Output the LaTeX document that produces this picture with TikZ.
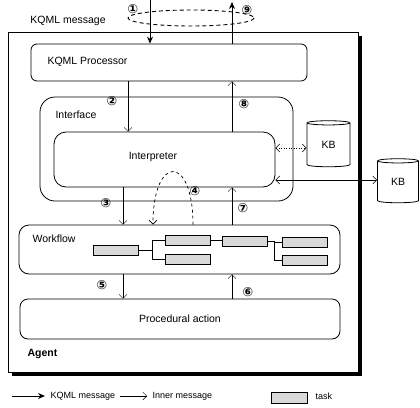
\documentclass[tikz,border=0pt]{standalone}
\usepackage{fontspec}
\setmainfont{Liberation Sans}
\newfontfamily\numfont{DejaVu Sans}
\usetikzlibrary{arrows.meta, positioning, shapes.geometric, calc, shadows}

\begin{document}
\begin{tikzpicture}[
    x=1pt, y=-1pt,
    font=\fontsize{10.5}{12}\selectfont,
    box/.style={draw, line width=0.8pt, rounded corners=#1, inner sep=0pt},
    task/.style={draw, line width=0.7pt, fill=gray!30, inner sep=0pt,
                 minimum width=45pt, minimum height=10pt},
    kb/.style={draw, line width=0.8pt, cylinder, shape border rotate=90,
               aspect=0.3, inner sep=0pt},
    kqml/.style={-{Stealth[length=7pt, width=6pt]}, line width=1pt},
    inner/.style={-{Straight Barb[length=4pt, width=8pt]}, line width=0.4pt},
    both/.style={{Straight Barb[length=4pt, width=8pt]}-{Straight Barb[length=4pt, width=8pt]},
                 line width=0.5pt},
    num/.style={font=\numfont\fontsize{12.5}{12}\selectfont\bfseries, inner sep=0pt}
  ]
  \useasboundingbox (0,0) rectangle (420,407);

  \node[box=0, minimum width=350pt, minimum height=340pt, fill=white,
        drop shadow={shadow xshift=4pt, shadow yshift=-4pt, opacity=1,
                     fill=black}] (agent) at (183,202) {};
  \node[anchor=west, font=\fontsize{10.5}{12}\selectfont\bfseries]
    (agentlbl) at (24,354) {Agent};

  \node[box=6pt, minimum width=276pt, minimum height=37pt] (kqmlp)
    at (169,62.5) {};
  \node[anchor=west] (kqmlplbl) at (44,62) {KQML Processor};

  \node[box=15pt, minimum width=253pt, minimum height=104pt] (iface)
    at (166.5,149) {};
  \node[anchor=west] (ifacelbl) at (52,115) {Interface};
  \node[box=12pt, minimum width=221pt, minimum height=55pt] (interp)
    at (164.5,159.5) {};
  \node (interplbl) at (153,157) {Interpreter};

  \node[box=10pt, minimum width=321pt, minimum height=49pt] (wflow)
    at (179.5,249.5) {};
  \node[anchor=west] (wflowlbl) at (29,239) {Workflow};
  \node[task] (t1) at (115.5,250) {};
  \node[task] (t2) at (187.5,240.5) {};
  \node[task] (t3) at (187.5,259.5) {};
  \node[task] (t4) at (244.5,241) {};
  \node[task] (t5) at (304.5,242) {};
  \node[task] (t6) at (304.5,260) {};
  \draw[line width=0.7pt] (t1.east) -- ++(14,0) |- (t2.west);
  \draw[line width=0.7pt] (t1.east) -- ++(14,0) |- (t3.west);
  \draw[line width=0.7pt] (t2.east) -- (t4.west |- t2.east);
  \draw[line width=0.7pt] (t4.east) -- ++(7,0) |- (t5.west);
  \draw[line width=0.7pt] (t4.east) -- ++(7,0) |- (t6.west);

  \node[box=8pt, minimum width=320pt, minimum height=40pt] (proc)
    at (180,319) {Procedural action};

  \node[kb, minimum width=43pt, minimum height=46pt] (kb1) at (328.5,145) {KB};
  \node[kb, minimum width=41pt, minimum height=44pt] (kb2) at (398,182) {KB};

  % KQML messages in and out
  \node (msglbl) at (68,21) {KQML message};
  \draw[line width=0.9pt, dash pattern=on 4pt off 3pt]
    (191,18) ellipse [x radius=63, y radius=8];
  \coordinate (in) at (150,0);
  \coordinate (out) at (232,2);
  \draw[kqml] (in) -- (150,0 |- kqmlp.north);
  \draw[kqml] (232,0 |- kqmlp.north) -- (out);
  \node[num] (n1) at (133,9) {①};
  \node[num] (n9) at (247,10) {⑨};

  % inner messages
  \draw[inner] (128,0 |- kqmlp.south) -- (128,0 |- interp.north);
  \node[num] (n2) at (112,101) {②};
  \draw[inner] (123,0 |- interp.south) -- (123,0 |- wflow.north);
  \node[num] (n3) at (106,203) {③};
  \draw[inner, dashed, line width=0.7pt] (193,0 |- wflow.north)
    .. controls (193,154) and (153,154) .. (153,0 |- wflow.north);
  \node[num] (n4) at (195,191) {④};
  \draw[inner] (123,0 |- wflow.south) -- (123,0 |- proc.north);
  \node[num] (n5) at (102,285) {⑤};
  \draw[inner] (232,0 |- proc.north) -- (232,0 |- wflow.south);
  \node[num] (n6) at (248,292) {⑥};
  \draw[inner] (232,0 |- wflow.north) -- (232,0 |- interp.south);
  \node[num] (n7) at (243,208) {⑦};
  \draw[inner] (232,0 |- interp.north) -- (232,0 |- kqmlp.south);
  \node[num] (n8) at (244,104) {⑧};

  % knowledge bases
  \draw[both, dotted] (interp.east |- 0,148) -- (kb1.west |- 0,148);
  \draw[both] (interp.east |- 0,180) -- (kb2.west |- 0,180);

  % legend
  \coordinate (lga) at (12,396);
  \coordinate (lgb) at (45,396);
  \draw[kqml] (lga) -- (lgb);
  \node[anchor=west, font=\fontsize{9}{11}\selectfont] (lgkqml)
    at (47,396) {KQML message};
  \coordinate (lgc) at (120,396);
  \coordinate (lgd) at (147,396);
  \draw[inner] (lgc) -- (lgd);
  \node[anchor=west, font=\fontsize{9}{11}\selectfont] (lginner)
    at (149,396) {Inner message};
  \node[task, minimum width=36pt, minimum height=11pt] (lgtask) at (289,398) {};
  \node[anchor=west, font=\fontsize{9}{11}\selectfont] (lgtasklbl)
    at (312,396) {task};
\end{tikzpicture}
\end{document}
